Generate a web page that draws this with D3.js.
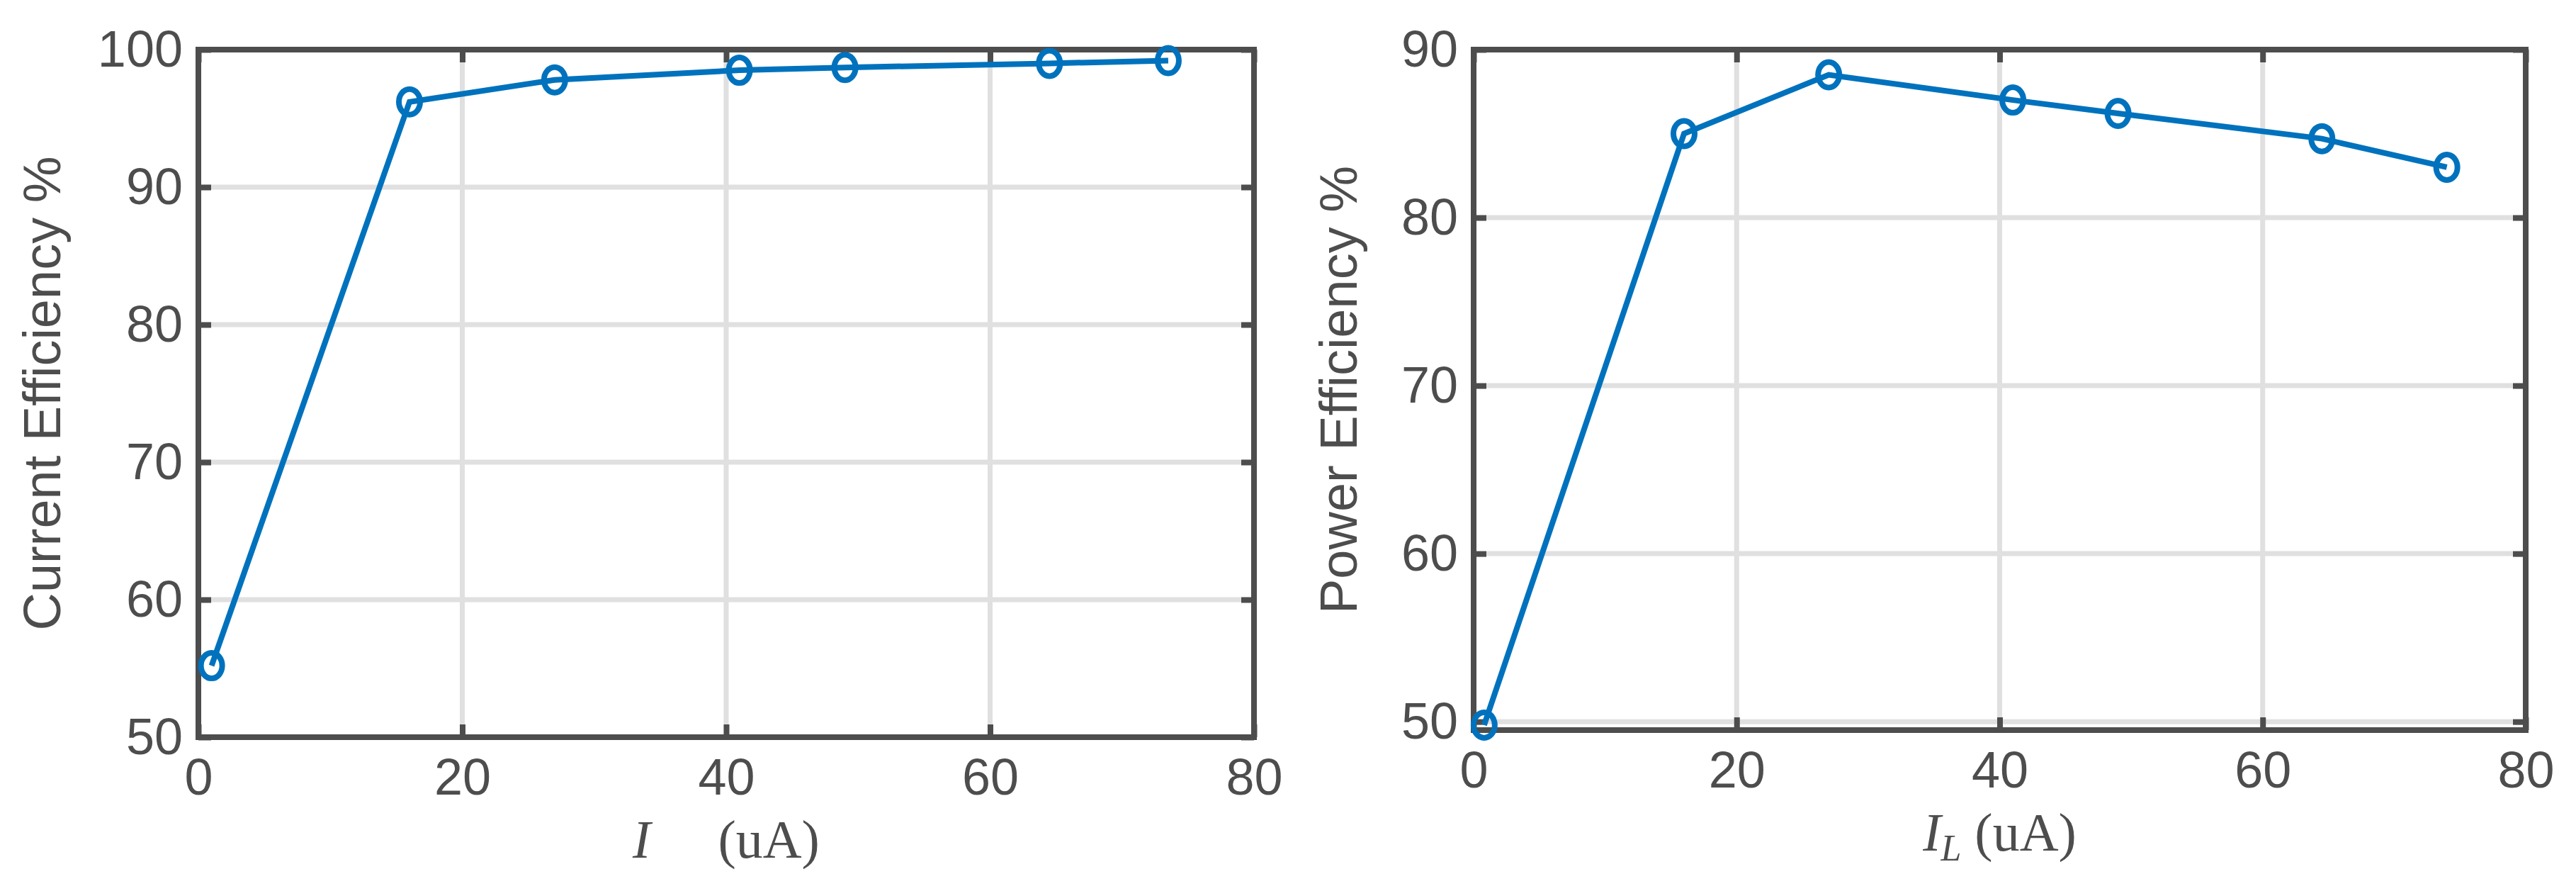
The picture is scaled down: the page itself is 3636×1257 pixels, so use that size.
<!DOCTYPE html>
<html><head><meta charset="utf-8">
<script src="https://cdn.jsdelivr.net/npm/d3@7"></script>
<style>body{margin:0;background:#fff}</style>
</head><body>
<div id="chart"></div>
<script>
const currentX = [1, 16, 27, 41, 49, 64.5, 73.5];
const currentY = [55.2, 96.2, 97.8, 98.5, 98.7, 99.0, 99.2];
const powerX = [0.8, 16, 27, 41, 49, 64.5, 74];
const powerY = [49.8, 85.0, 88.5, 87.0, 86.2, 84.7, 83.0];
const xTicks = [0, 20, 40, 60, 80];
const currentTicks = [50, 60, 70, 80, 90, 100];
const powerTicks = [50, 60, 70, 80, 90];

const W = 3636, H = 1257, ink = "#4d4d4d", blue = "#0072BD";
const svg = d3.select("#chart").append("svg").attr("width", W).attr("height", H);

function panel(left, right, top, bottom, xs, ys, yDomain, yTicks, yLabel, yLabelOff, xLabelFn) {
    const x = d3.scaleLinear().domain([0, 80]).range([left, right]);
    const y = d3.scaleLinear().domain(yDomain).range([bottom, top]);
    const g = svg.append("g");

    // grid
    g.selectAll(".gx").data(xTicks.slice(1, -1)).enter().append("line")
        .attr("x1", d => x(d)).attr("x2", d => x(d)).attr("y1", top).attr("y2", bottom)
        .attr("stroke", "#e0e0e0").attr("stroke-width", 7);
    g.selectAll(".gy").data(yTicks).enter().append("line")
        .attr("y1", d => y(d)).attr("y2", d => y(d)).attr("x1", left).attr("x2", right)
        .attr("stroke", "#e0e0e0").attr("stroke-width", 7);

    // axes (ticks inward)
    g.append("g").attr("transform", `translate(0,${bottom})`)
        .call(d3.axisBottom(x).tickValues(xTicks).tickSize(-18).tickPadding(30));
    g.append("g").attr("transform", `translate(${left},0)`)
        .call(d3.axisLeft(y).tickValues(yTicks).tickSize(-18).tickPadding(22));
    g.append("g").attr("transform", `translate(${right},0)`)
        .call(d3.axisRight(y).tickValues(yTicks).tickSize(-18).tickFormat(""));
    g.append("g").attr("transform", `translate(0,${top})`)
        .call(d3.axisTop(x).tickValues(xTicks).tickSize(-18).tickFormat(""));
    g.selectAll(".domain").remove();
    g.selectAll(".tick line").attr("stroke", ink).attr("stroke-width", 8);
    g.selectAll(".tick text").attr("fill", ink)
        .style("font-family", "'Liberation Sans Narrow', 'Liberation Sans', sans-serif").style("font-size", "72px");
    g.append("rect").attr("x", left).attr("y", top).attr("width", right - left).attr("height", bottom - top)
        .attr("fill", "none").attr("stroke", ink).attr("stroke-width", 8);

    const pts = xs.map((v, i) => [v, ys[i]]);
    g.append("path").datum(pts)
        .attr("d", d3.line().x(d => x(d[0])).y(d => y(d[1])))
        .attr("fill", "none").attr("stroke", blue).attr("stroke-width", 8);
    g.selectAll(".pt").data(pts).enter().append("ellipse")
        .attr("cx", d => x(d[0])).attr("cy", d => y(d[1])).attr("rx", 15).attr("ry", 18)
        .attr("fill", "none").attr("stroke", blue).attr("stroke-width", 8);

    g.append("text").text(yLabel)
        .attr("transform", `translate(${left - yLabelOff},${(top + bottom) / 2}) rotate(-90)`)
        .attr("text-anchor", "middle").attr("fill", ink)
        .style("font-family", "'Liberation Sans', Arial, sans-serif").style("font-size", "74px");
    const xl = g.append("text").attr("x", (left + right) / 2).attr("y", bottom + 170)
        .attr("text-anchor", "middle").attr("fill", ink)
        .style("font-family", "'Liberation Serif', 'Times New Roman', serif").style("font-size", "76px");
    xLabelFn(xl);
}

panel(280, 1770, 70, 1040, currentX, currentY, [50, 100], currentTicks, "Current Efficiency %", 195, t => {
    t.append("tspan").text("I").style("font-style", "italic");
    t.append("tspan").text("\u2003 (uA)");
});
panel(2080, 3565, 70, 1030, powerX, powerY, [49.5, 90], powerTicks, "Power Efficiency %", 165, t => {
    t.append("tspan").text("I").style("font-style", "italic");
    t.append("tspan").text("L").style("font-style", "italic").style("font-size", "52px").attr("dy", 14);
    t.append("tspan").text(" (uA)").attr("dy", -14);
});
</script>
</body></html>
